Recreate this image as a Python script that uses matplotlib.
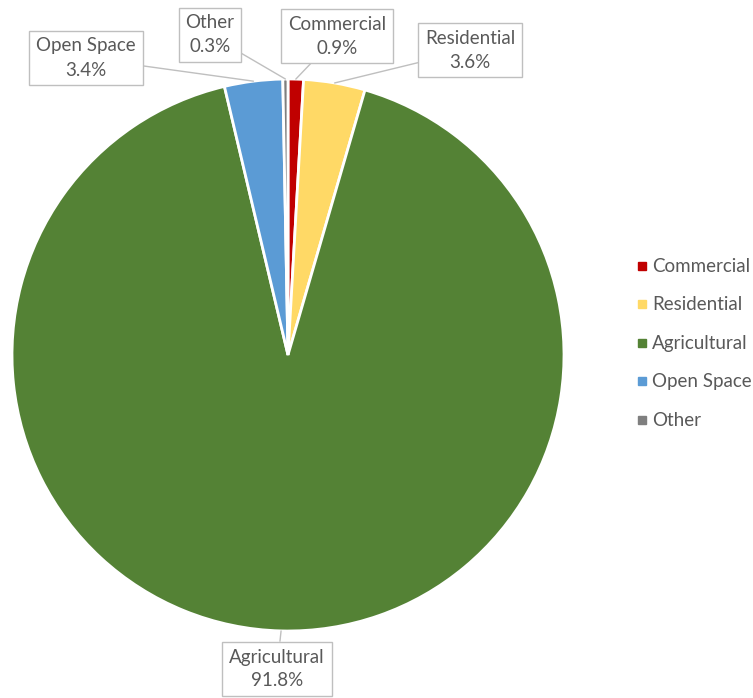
import matplotlib
matplotlib.use("Agg")
import matplotlib.pyplot as plt
import numpy as np
from matplotlib.patches import Rectangle

categories = ["Commercial", "Residential", "Agricultural", "Open Space", "Other"]
values = [0.9, 3.6, 91.8, 3.4, 0.3]
colors = ["#C00000", "#FFD966", "#548235", "#5B9BD5", "#7F7F7F"]

plt.rcParams['font.family'] = ['Lato', 'DejaVu Sans']

W, H = 753, 698
fig = plt.figure(figsize=(W / 100, H / 100), dpi=100)
ax = fig.add_axes([0, 0, 1, 1])

cx, cy, R = 288, H - 355, 276
wedges, _ = ax.pie(values, colors=colors, startangle=90, counterclock=False,
                   center=(cx, cy), radius=R, frame=True,
                   wedgeprops=dict(edgecolor='white', linewidth=2))
ax.set_xlim(0, W)
ax.set_ylim(0, H)
ax.set_aspect('equal')
ax.axis('off')

# label box centres (pixel coords, top-left origin)
label_pos = {
    "Commercial": (337, 36),
    "Residential": (470, 50),
    "Agricultural": (277, 669),
    "Open Space": (86, 58),
    "Other": (210, 35),
}

for cat, v, w in zip(categories, values, wedges):
    mid = np.deg2rad((w.theta1 + w.theta2) / 2)
    px = cx + R * np.cos(mid)
    py = cy + R * np.sin(mid)
    lx, ly = label_pos[cat]
    ax.annotate(f"{cat}\n{v:.1f}%", xy=(px, py), xytext=(lx, H - ly),
                ha='center', va='center', fontsize=13.5, color='#595959',
                linespacing=1.5,
                bbox=dict(boxstyle='square,pad=0.36', fc='white', ec='#BFBFBF', lw=1),
                arrowprops=dict(arrowstyle='-', color='#BFBFBF', lw=1,
                                shrinkA=0, shrinkB=0))

# legend
leg_y = [266, 304, 343, 381, 420]
for cat, col, y in zip(categories, colors, leg_y):
    ax.add_patch(Rectangle((638, H - y - 4), 8, 8, color=col))
    ax.text(652, H - y, cat, va='center', ha='left', fontsize=13.5, color='#595959')

fig.savefig("out.png", dpi=100)
